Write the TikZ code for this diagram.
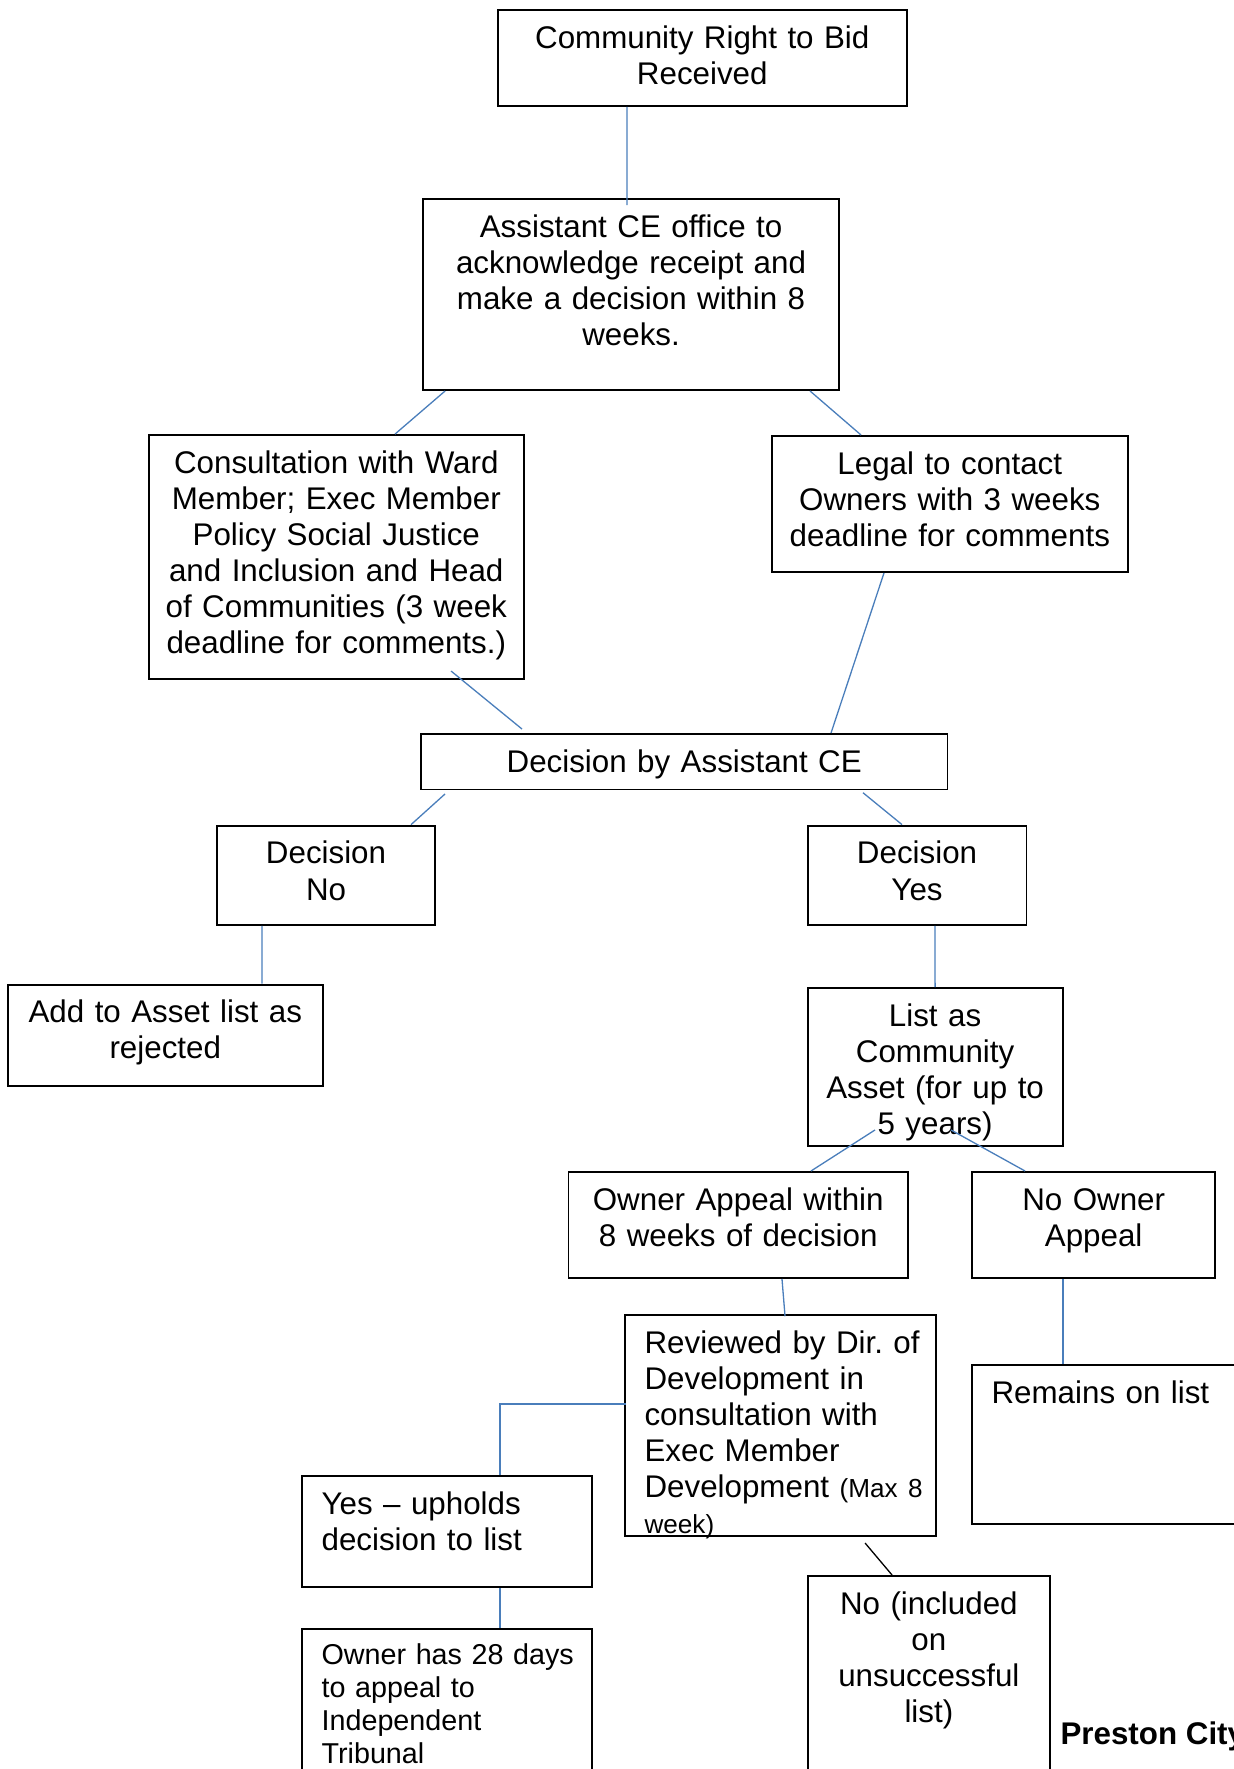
\documentclass[tikz,border=0pt]{standalone}
\usepackage{fontspec}
\setmainfont{Liberation Sans}
\usepackage{tikz}
\usetikzlibrary{positioning, calc}
\definecolor{linkblue}{RGB}{74,126,187}

\tikzset{
    stage/.style={draw, line width=0.75pt, anchor=north, inner ysep=0pt, inner xsep=2pt,
        text height=14.7pt, align=center, font=\fontsize{12}{13.8}\selectfont},
    stageleft/.style={stage, align=left, inner xsep=7.5pt},
    boxsize/.style 2 args={text width=#1-4pt, text depth=#2-14.7pt},
    boxsizeleft/.style 2 args={text width=#1-15pt, text depth=#2-14.7pt},
    link/.style={linkblue, line width=0.5pt},
    thicklink/.style={linkblue, line width=0.7pt}
}

\begin{document}
\begin{tikzpicture}
    \useasboundingbox (0,0) rectangle (16.599,-23.814);

    % Demande recue
    \node[stage, boxsize={5.513cm}{1.292cm}] (recv) at (9.454,-0.121) {Community Right to Bid\\Received};
    \node[stage, boxsize={5.600cm}{2.565cm}] (ack) at (8.495,-2.672) {Assistant CE office to\\acknowledge receipt and\\make a decision within 8\\weeks.};

    % Consultations
    \node[stage, boxsize={5.042cm}{3.285cm}] (consult) at (4.527,-5.843) {Consultation with Ward\\Member; Exec Member\\Policy Social Justice\\and Inclusion and Head\\of Communities (3 week\\deadline for comments.)};
    \node[stage, boxsize={4.798cm}{1.831cm}] (legal) at (12.786,-5.856) {Legal to contact\\Owners with 3 weeks\\deadline for comments};

    % Decision
    \node[stage, boxsize={7.088cm}{0.747cm}] (decide) at (9.211,-9.868) {Decision by Assistant CE};
    \node[stage, boxsize={2.946cm}{1.338cm}] (declno) at (4.389,-11.101) {Decision\\No};
    \node[stage, boxsize={2.947cm}{1.338cm}] (declyes) at (12.345,-11.101) {Decision\\Yes};
    \node[stage, boxsize={4.235cm}{1.365cm}] (rejected) at (2.225,-13.241) {Add to Asset list as\\rejected};
    \node[stage, boxsize={3.433cm}{2.127cm}] (listed) at (12.588,-13.287) {List as\\Community\\Asset (for up to\\5 years)};

    % Appel du proprietaire
    \node[stage, boxsize={4.570cm}{1.427cm}] (appeal) at (9.938,-15.764) {Owner Appeal within\\8 weeks of decision};
    \node[stage, boxsize={3.267cm}{1.427cm}] (noappeal) at (14.723,-15.764) {No Owner\\Appeal};
    \node[stageleft, boxsizeleft={4.187cm}{2.975cm}] (review) at (10.507,-17.689) {Reviewed~by~Dir.~of\\Development in\\consultation with\\Exec Member\\Development~{\fontsize{10}{13.8}\selectfont(Max~8}\\{\fontsize{10}{13.8}\selectfont week)}};
    \node[stageleft, boxsizeleft={3.742cm}{2.140cm}] (remains) at (14.956,-18.362) {Remains on list};
    \node[stageleft, boxsizeleft={3.904cm}{1.489cm}] (upheld) at (6.018,-19.862) {Yes – upholds\\decision to list};
    \node[stageleft, boxsizeleft={3.904cm}{2.423cm}, text height=13.6pt, font=\fontsize{11}{12.65}\selectfont] (tribunal) at (6.018,-21.916) {Owner~has~28~days\\to appeal to\\Independent\\Tribunal};
    \node[stage, boxsize={3.263cm}{3.096cm}] (unsucc) at (12.504,-21.203) {No (included\\on\\unsuccessful\\list)};

    % Pied de page
    \node[anchor=base west, inner sep=0pt, font=\fontsize{12}{13.8}\selectfont\bfseries] (footer) at (14.27,-23.49) {Preston City};

    % Liaisons
    \draw[link] ([xshift=-1.013cm]recv.south) -- ([xshift=-0.054cm, yshift=-0.09cm]ack.north);
    \draw[link] ([xshift=0.31cm]ack.south west) -- ([xshift=0.791cm]consult.north);
    \draw[link] ([xshift=-0.404cm]ack.south east) -- ([xshift=-1.195cm]legal.north);
    \draw[link] ([xshift=1.545cm, yshift=0.121cm]consult.south) -- ([xshift=-2.184cm, yshift=0.054cm]decide.north);
    \draw[link] ([xshift=-0.886cm]legal.south) -- ([xshift=1.976cm]decide.north);
    \draw[link] ([xshift=0.337cm, yshift=-0.047cm]decide.south west) -- ([xshift=1.144cm]declno.north);
    \draw[link] ([xshift=-1.151cm, yshift=-0.03cm]decide.south east) -- ([xshift=-0.202cm]declyes.north);
    \draw[link] ([xshift=-0.862cm]declno.south) -- ([xshift=1.302cm]rejected.north);
    \draw[link] ([xshift=0.242cm]declyes.south) -- (listed.north);
    \draw[link] ([xshift=-0.809cm, yshift=0.229cm]listed.south) -- ([xshift=0.979cm]appeal.north);
    \draw[link] ([xshift=0.214cm, yshift=0.229cm]listed.south) -- ([xshift=-0.924cm]noappeal.north);
    \draw[link] ([xshift=0.589cm]appeal.south) -- ([xshift=0.061cm, yshift=-0.03cm]review.north);
    \draw[link] ([xshift=-0.413cm]noappeal.south) -- ([xshift=-0.413cm]noappeal.south |- remains.north);
    \draw[thicklink] ([xshift=0.03cm, yshift=0.289cm]review.west) -| ([xshift=0.713cm]upheld.north);
    \draw[thicklink] ([xshift=0.713cm]upheld.south) -- ([xshift=0.713cm]tribunal.north);
    \draw[line width=0.5pt] ([xshift=1.138cm, yshift=-0.081cm]review.south) -- ([xshift=-0.495cm]unsucc.north);
\end{tikzpicture}
\end{document}
